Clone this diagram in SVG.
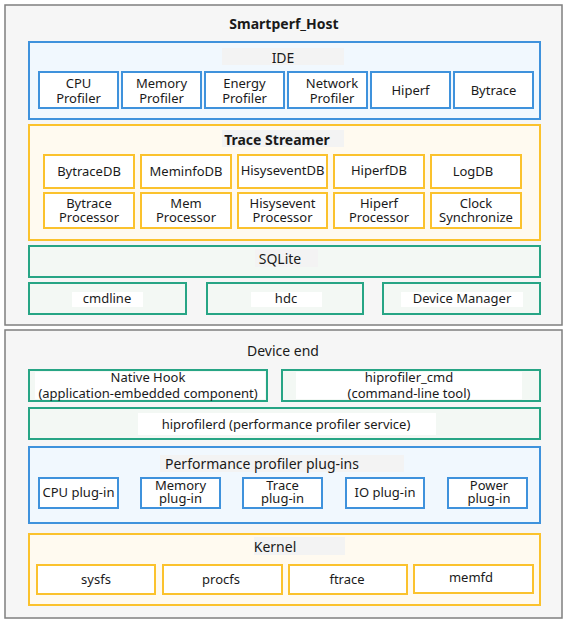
<svg xmlns="http://www.w3.org/2000/svg" width="568" height="624" viewBox="0 0 568 624">
<style>
text{font-family:"Noto Sans","Open Sans","Liberation Sans",sans-serif;font-size:13px;fill:#1a1a1a;text-anchor:middle;dominant-baseline:central}
.b{font-weight:bold;font-size:14px}
.t{font-size:14px}
.outer{fill:#f6f6f6;stroke:#7f7f7f;stroke-width:1.5}
.blue{fill:#f1f8fe;stroke:#3f92dc;stroke-width:2}
.yel{fill:#fffaf0;stroke:#fbc22d;stroke-width:2}
.grn{fill:#f3f8f4;stroke:#27a585;stroke-width:2}
.wb{fill:#fff;stroke:#3f92dc;stroke-width:2}
.wy{fill:#fff;stroke:#fbc22d;stroke-width:2}
.lbg{fill:#f3f3f3}
.wbg{fill:#fff}
</style>
<g id="host">
<rect class="outer" x="5" y="5" width="557" height="320"/>
<text class="b" x="284" y="23">Smartperf_Host</text>
</g>
<g id="ide">
<rect class="blue" x="29" y="42" width="511" height="77"/>
<rect class="lbg" x="222" y="48" width="122" height="17"/>
<text class="t" x="283" y="57">IDE</text>
</g>
<g id="cpu-profiler"><rect class="wb" x="39" y="72" width="79" height="36"/><text x="78.5" y="83">CPU</text><text x="78.5" y="98">Profiler</text></g>
<g id="memory-profiler"><rect class="wb" x="122" y="72" width="79" height="36"/><text x="161.5" y="83">Memory</text><text x="161.5" y="98">Profiler</text></g>
<g id="energy-profiler"><rect class="wb" x="205" y="72" width="79" height="36"/><text x="244.5" y="83">Energy</text><text x="244.5" y="98">Profiler</text></g>
<g id="network-profiler"><rect class="wb" x="288" y="72" width="79" height="36"/><text x="332" y="83">Network</text><text x="332" y="98">Profiler</text></g>
<g id="hiperf"><rect class="wb" x="371" y="72" width="79" height="36"/><text x="410.5" y="90">Hiperf</text></g>
<g id="bytrace"><rect class="wb" x="454" y="72" width="79" height="36"/><text x="493.5" y="90">Bytrace</text></g>

<g id="trace-streamer">
<rect class="yel" x="29" y="125" width="511" height="115"/>
<rect class="lbg" x="222" y="130" width="122" height="17"/>
<text class="b" x="277" y="139">Trace Streamer</text>
</g>
<g id="bytracedb"><rect class="wy" x="44" y="155" width="90" height="33"/><text x="89" y="171">BytraceDB</text></g>
<g id="meminfodb"><rect class="wy" x="141" y="155" width="90" height="33"/><text x="186" y="171">MeminfoDB</text></g>
<g id="hisyseventdb"><rect class="wy" x="238" y="155" width="89" height="33"/><text x="282.5" y="170">HisyseventDB</text></g>
<g id="hiperfdb"><rect class="wy" x="334" y="155" width="90" height="33"/><text x="379" y="170">HiperfDB</text></g>
<g id="logdb"><rect class="wy" x="431" y="155" width="90" height="33"/><text x="473" y="171">LogDB</text></g>
<g id="bytrace-processor"><rect class="wy" x="44" y="193" width="90" height="35"/><text x="89" y="203">Bytrace</text><text x="89" y="217">Processor</text></g>
<g id="mem-processor"><rect class="wy" x="141" y="193" width="90" height="35"/><text x="186" y="203">Mem</text><text x="186" y="217">Processor</text></g>
<g id="hisysevent-processor"><rect class="wy" x="238" y="193" width="89" height="35"/><text x="282.5" y="203">Hisysevent</text><text x="282.5" y="217">Processor</text></g>
<g id="hiperf-processor"><rect class="wy" x="334" y="193" width="90" height="35"/><text x="379" y="203">Hiperf</text><text x="379" y="217">Processor</text></g>
<g id="clock-synchronize"><rect class="wy" x="431" y="193" width="90" height="35"/><text x="476" y="203">Clock</text><text x="476" y="217">Synchronize</text></g>

<g id="sqlite">
<rect class="grn" x="29" y="246" width="511" height="31"/>
<rect class="lbg" x="255" y="249" width="63" height="18"/>
<text class="t" x="280" y="258">SQLite</text>
</g>
<g id="cmdline"><rect class="grn" x="29" y="283" width="157" height="31"/><rect class="wbg" x="72" y="292" width="71" height="15"/><text x="107" y="298">cmdline</text></g>
<g id="hdc"><rect class="grn" x="207" y="283" width="156" height="31"/><rect class="wbg" x="251" y="292" width="71" height="15"/><text x="286" y="298">hdc</text></g>
<g id="device-manager"><rect class="grn" x="383" y="283" width="157" height="31"/><rect class="wbg" x="401" y="292" width="122" height="15"/><text x="462" y="298">Device Manager</text></g>

<g id="device-end">
<rect class="outer" x="5" y="330" width="557" height="288"/>
<text class="t" x="283" y="350">Device end</text>
</g>
<g id="native-hook"><rect class="grn" x="29" y="370" width="238" height="31"/><rect class="wbg" x="35" y="372" width="230" height="27"/><text x="148" y="377">Native Hook</text><text x="148" y="393">(application-embedded component)</text></g>
<g id="hiprofiler-cmd"><rect class="grn" x="282" y="370" width="258" height="31"/><rect class="wbg" x="296" y="372" width="226" height="27"/><text x="409" y="377">hiprofiler_cmd</text><text x="409" y="393">(command-line tool)</text></g>
<g id="hiprofilerd"><rect class="grn" x="29" y="408" width="511" height="31"/><rect class="wbg" x="138" y="413" width="298" height="22"/><text x="286" y="424">hiprofilerd (performance profiler service)</text></g>

<g id="plugins">
<rect class="blue" x="29" y="447" width="511" height="76"/>
<rect class="lbg" x="160" y="455" width="244" height="17"/>
<text class="t" x="262" y="463">Performance profiler plug-ins</text>
</g>
<g id="cpu-plugin"><rect class="wb" x="39" y="478" width="79" height="30"/><text x="78.5" y="492">CPU plug-in</text></g>
<g id="memory-plugin"><rect class="wb" x="141" y="478" width="79" height="30"/><text x="180.5" y="485">Memory</text><text x="180.5" y="498">plug-in</text></g>
<g id="trace-plugin"><rect class="wb" x="243" y="478" width="79" height="30"/><text x="282.5" y="485">Trace</text><text x="282.5" y="498">plug-in</text></g>
<g id="io-plugin"><rect class="wb" x="346" y="478" width="78" height="30"/><text x="385" y="492">IO plug-in</text></g>
<g id="power-plugin"><rect class="wb" x="448" y="478" width="79" height="30"/><text x="489" y="485">Power</text><text x="489" y="498">plug-in</text></g>

<g id="kernel">
<rect class="yel" x="29" y="534" width="511" height="71"/>
<rect class="lbg" x="254" y="537" width="91" height="18"/>
<text class="t" x="275" y="546">Kernel</text>
</g>
<g id="sysfs"><rect class="wy" x="37" y="565" width="118" height="29"/><text x="96" y="579">sysfs</text></g>
<g id="procfs"><rect class="wy" x="163" y="565" width="119" height="29"/><text x="221" y="579">procfs</text></g>
<g id="ftrace"><rect class="wy" x="289" y="565" width="118" height="29"/><text x="347" y="579">ftrace</text></g>
<g id="memfd"><rect class="wy" x="414" y="565" width="119" height="28"/><text x="471" y="577">memfd</text></g>
<g id="connectors"/>
</svg>
